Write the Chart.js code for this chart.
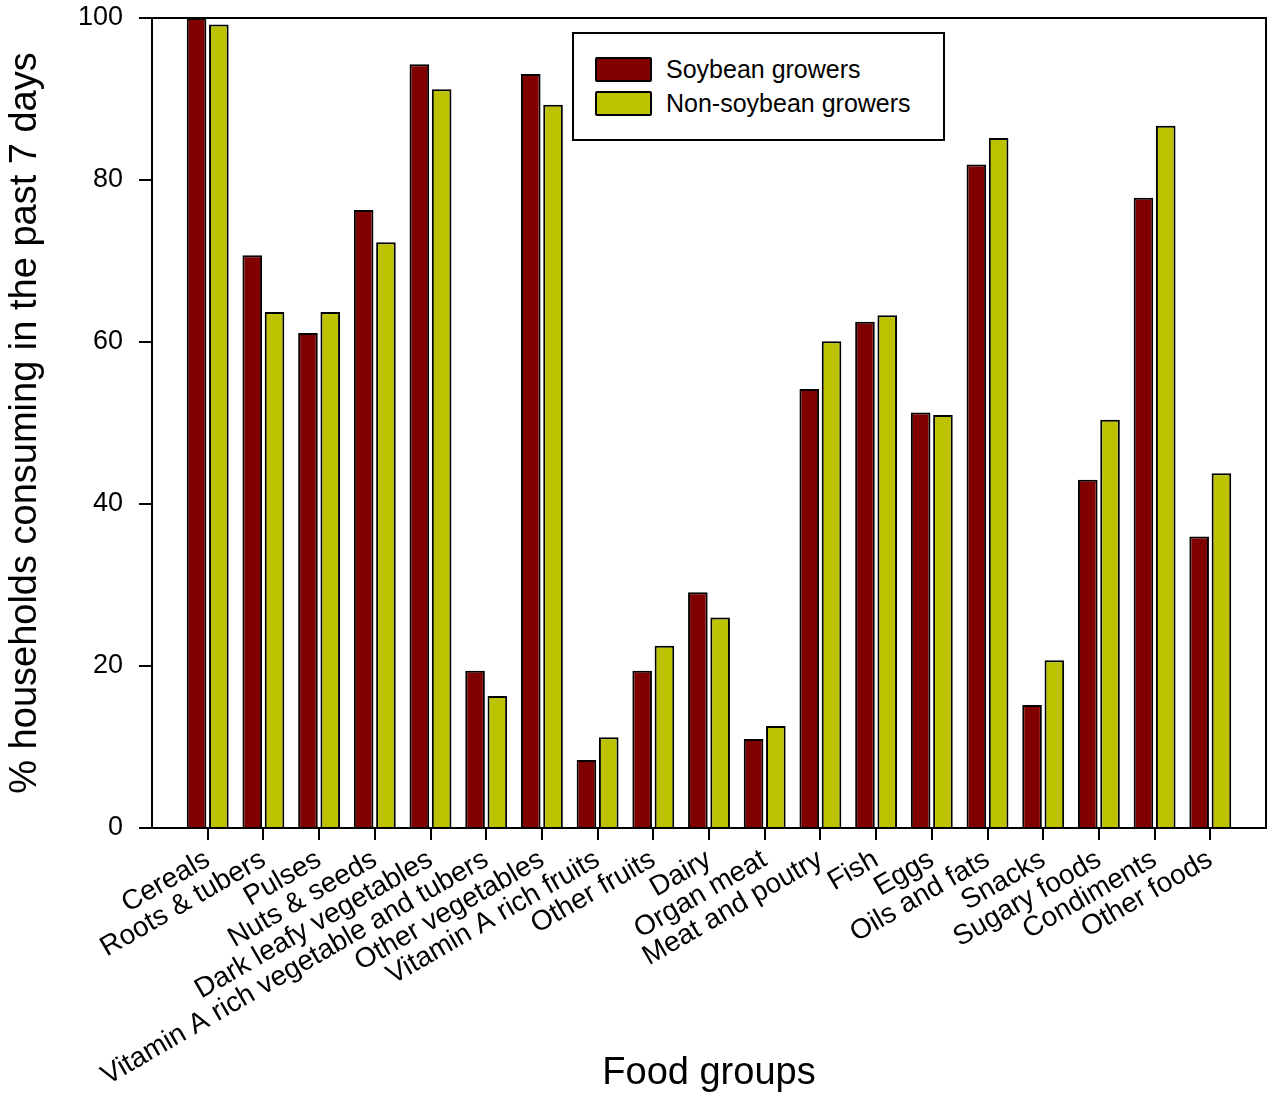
<!DOCTYPE html>
<html>
<head>
<meta charset="utf-8">
<script src="https://cdn.jsdelivr.net/npm/chart.js@4/dist/chart.umd.min.js"></script>
<style>
    body { margin: 0; background: #fff; }
    #wrap { position: relative; width: 1280px; height: 1100px; }
    #legend {
        position: absolute; left: 572px; top: 32px; width: 369px; height: 105px;
        border: 2px solid #000; background: #fff;
        font-family: "Liberation Sans", Arial, sans-serif; font-size: 25px; color: #000;
    }
    .item { position: absolute; left: 21px; height: 26px; display: flex; align-items: center; }
    .sw { width: 57px; height: 25px; border: 2px solid #000; border-radius: 2px; box-sizing: border-box; margin-right: 14px; }
</style>
</head>
<body>
<div id="wrap">
    <canvas id="foodChart" width="1280" height="1100"></canvas>
    <div id="legend">
        <div class="item" style="top:22px"><div class="sw" style="background:#800000"></div>Soybean growers</div>
        <div class="item" style="top:56px"><div class="sw" style="background:#bcc200"></div>Non-soybean growers</div>
    </div>
</div>
<script>
const foodGroups = ['Cereals', 'Roots & tubers', 'Pulses', 'Nuts & seeds', 'Dark leafy vegetables',
    'Vitamin A rich vegetable and tubers', 'Other vegetables', 'Vitamin A rich fruits', 'Other fruits',
    'Dairy', 'Organ meat', 'Meat and poutry', 'Fish', 'Eggs', 'Oils and fats', 'Snacks',
    'Sugary foods', 'Condiments', 'Other foods'];
const soybeanGrowers = [100, 70.7, 61.1, 76.3, 94.3, 19.4, 93.1, 8.4, 19.4, 29.1, 11.0, 54.2, 62.5, 51.3, 81.9, 15.2, 43.0, 77.8, 36.0];
const nonSoybeanGrowers = [99.2, 63.7, 63.7, 72.3, 91.2, 16.3, 89.3, 11.2, 22.5, 26.0, 12.6, 60.1, 63.3, 51.0, 85.2, 20.7, 50.4, 86.7, 43.8];
const yTicks = [0, 20, 40, 60, 80, 100];

const fontFam = '"Liberation Sans", Arial, sans-serif';

// box round the plot area (top and right sides too)
const frame = {
    id: 'frame',
    afterDraw(chart) {
        const a = chart.chartArea, c = chart.ctx;
        c.save();
        c.strokeStyle = '#000';
        c.lineWidth = 2;
        c.strokeRect(a.left, a.top, a.right - a.left, a.bottom - a.top);
        c.restore();
    }
};

function points(arr) {
    return arr.map((v, i) => ({ x: i + 1, y: v }));
}

const ctx = document.getElementById('foodChart').getContext('2d');
const chart = new Chart(ctx, {
    type: 'bar',
    data: {
        datasets: [{
            label: 'Soybean growers',
            data: points(soybeanGrowers),
            backgroundColor: '#800000',
            borderColor: '#000',
            borderWidth: 2,
            categoryPercentage: 0.8,
            barPercentage: 0.88
        }, {
            label: 'Non-soybean growers',
            data: points(nonSoybeanGrowers),
            backgroundColor: '#bcc200',
            borderColor: '#000',
            borderWidth: 2,
            categoryPercentage: 0.8,
            barPercentage: 0.88
        }]
    },
    options: {
        responsive: false,
        animation: false,
        layout: { padding: { left: 0, right: 14, top: 18, bottom: 0 } },
        plugins: { legend: { display: false }, tooltip: { enabled: false } },
        scales: {
            x: {
                type: 'linear',
                min: 0,
                max: foodGroups.length + 1,
                offset: false,
                afterBuildTicks: s => { s.ticks = foodGroups.map((_, i) => ({ value: i + 1 })); },
                afterFit: s => { s.height = 272; },
                ticks: {
                    autoSkip: false,
                    minRotation: 30,
                    maxRotation: 30,
                    padding: 3,
                    color: '#000',
                    font: { family: fontFam, size: 28 },
                    callback: v => foodGroups[v - 1]
                },
                grid: { offset: false, drawOnChartArea: false, tickLength: 12, color: '#000', lineWidth: 2 },
                border: { color: '#000', width: 2 },
                title: {
                    display: true, text: 'Food groups', color: '#000',
                    font: { family: fontFam, size: 38 }, padding: { top: 0, bottom: 4 }
                }
            },
            y: {
                min: 0,
                max: 100,
                afterBuildTicks: s => { s.ticks = yTicks.map(v => ({ value: v })); },
                afterFit: s => { s.width = 152; s.paddingTop = 0; s.paddingBottom = 0; },
                ticks: { padding: 16, color: '#000', font: { family: fontFam, size: 27 } },
                grid: { drawOnChartArea: false, tickLength: 13, color: '#000', lineWidth: 2 },
                border: { color: '#000', width: 2 },
                title: {
                    display: true, text: '% households consuming in the past 7 days', color: '#000',
                    font: { family: fontFam, size: 38 }, padding: { top: 3, bottom: 0 }
                }
            }
        }
    },
    plugins: [frame]
});
</script>
</body>
</html>
